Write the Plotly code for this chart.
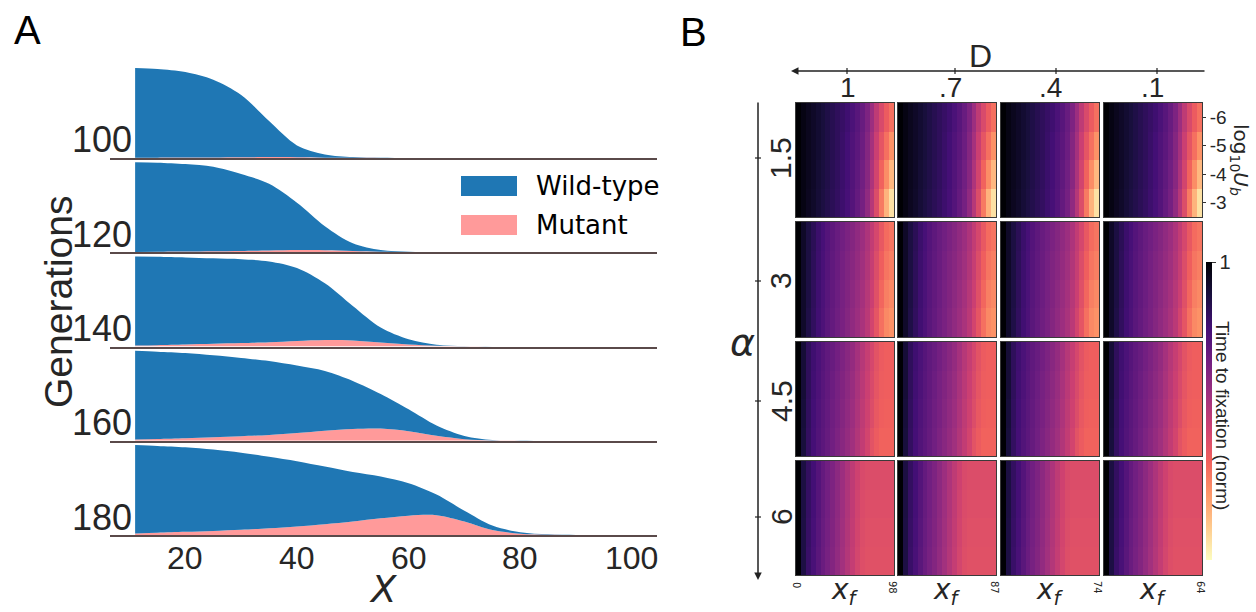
import plotly.graph_objects as go

# ---------------- DATA ----------------
# Panel A: population density profiles along X at several generations
x_pos = [11, 15, 20, 25, 30, 35, 40, 45, 50, 55, 60, 65, 70, 75, 80, 85, 90, 95, 100]
generations = [100, 120, 140, 160, 180]

wild_100 = [0.997, 0.986, 0.95, 0.864, 0.692, 0.40, 0.132, 0.036, 0.008, 0.002, 0, 0, 0, 0, 0, 0, 0, 0, 0]
mut_100 = [0.003, 0.004, 0.005, 0.006, 0.008, 0.01, 0.008, 0.004, 0.002, 0.001, 0, 0, 0, 0, 0, 0, 0, 0, 0]

wild_120 = [0.996, 0.99, 0.973, 0.94, 0.856, 0.741, 0.526, 0.268, 0.086, 0.019, 0.004, 0.001, 0, 0, 0, 0, 0, 0, 0]
mut_120 = [0.004, 0.005, 0.007, 0.01, 0.014, 0.019, 0.024, 0.022, 0.014, 0.006, 0.002, 0.001, 0, 0, 0, 0, 0, 0, 0]

wild_140 = [0.99, 0.983, 0.968, 0.95, 0.932, 0.898, 0.81, 0.63, 0.382, 0.165, 0.058, 0.012, 0.003, 0.001, 0, 0, 0, 0, 0]
mut_140 = [0.01, 0.015, 0.022, 0.03, 0.038, 0.047, 0.062, 0.072, 0.068, 0.045, 0.022, 0.008, 0.002, 0, 0, 0, 0, 0, 0]

wild_160 = [0.985, 0.97, 0.947, 0.912, 0.87, 0.82, 0.75, 0.665, 0.535, 0.385, 0.245, 0.115, 0.036, 0.005, 0.001, 0, 0, 0, 0]
mut_160 = [0.015, 0.02, 0.028, 0.038, 0.05, 0.065, 0.085, 0.11, 0.13, 0.135, 0.105, 0.055, 0.018, 0.004, 0.001, 0, 0, 0, 0]

wild_180 = [0.982, 0.965, 0.94, 0.905, 0.857, 0.795, 0.725, 0.64, 0.55, 0.465, 0.36, 0.23, 0.12, 0.05, 0.015, 0.003, 0, 0, 0]
mut_180 = [0.018, 0.025, 0.035, 0.045, 0.058, 0.075, 0.095, 0.12, 0.15, 0.185, 0.215, 0.22, 0.15, 0.055, 0.015, 0.004, 0.001, 0, 0]

wild_rows = [wild_100, wild_120, wild_140, wild_160, wild_180]
mut_rows = [mut_100, mut_120, mut_140, mut_160, mut_180]
x_ticks_a = [20, 40, 60, 80, 100]

# Panel B: normalised time to fixation, rows = log10 Ub (-6..-3), columns = x_f bins
log10_ub = [-6, -5, -4, -3]
xf_bins = list(range(20))
d_labels = ["1", ".7", ".4", ".1"]
alpha_labels = ["1.5", "3", "4.5", "6"]
xf_end_labels = ["98", "87", "74", "64"]

fix_alpha_1_5 = [
    [1.0, 0.97, 0.95, 0.93, 0.91, 0.89, 0.87, 0.85, 0.83, 0.81, 0.79, 0.76, 0.73, 0.69, 0.64, 0.56, 0.48, 0.41, 0.35, 0.3],
    [1.0, 0.97, 0.95, 0.93, 0.91, 0.89, 0.87, 0.85, 0.83, 0.805, 0.78, 0.75, 0.72, 0.68, 0.62, 0.54, 0.45, 0.37, 0.3, 0.23],
    [1.0, 0.97, 0.95, 0.93, 0.905, 0.885, 0.865, 0.845, 0.825, 0.8, 0.775, 0.745, 0.71, 0.67, 0.61, 0.52, 0.43, 0.33, 0.24, 0.15],
    [1.0, 0.97, 0.945, 0.925, 0.9, 0.88, 0.86, 0.84, 0.82, 0.795, 0.77, 0.74, 0.7, 0.66, 0.59, 0.5, 0.4, 0.28, 0.16, 0.06],
]
fix_alpha_3 = [
    [1.0, 0.93, 0.88, 0.84, 0.8, 0.77, 0.74, 0.715, 0.69, 0.67, 0.645, 0.62, 0.59, 0.56, 0.52, 0.47, 0.42, 0.36, 0.31, 0.29],
    [1.0, 0.93, 0.88, 0.835, 0.795, 0.765, 0.735, 0.71, 0.685, 0.66, 0.635, 0.61, 0.58, 0.55, 0.51, 0.46, 0.4, 0.34, 0.29, 0.27],
    [1.0, 0.925, 0.875, 0.83, 0.79, 0.76, 0.73, 0.705, 0.68, 0.655, 0.63, 0.6, 0.57, 0.54, 0.5, 0.45, 0.39, 0.32, 0.27, 0.25],
    [1.0, 0.925, 0.87, 0.825, 0.785, 0.755, 0.725, 0.7, 0.675, 0.65, 0.62, 0.59, 0.56, 0.53, 0.49, 0.43, 0.37, 0.3, 0.25, 0.23],
]
fix_alpha_4_5 = [
    [1.0, 0.9, 0.83, 0.79, 0.76, 0.735, 0.71, 0.69, 0.665, 0.64, 0.61, 0.58, 0.54, 0.5, 0.46, 0.42, 0.38, 0.35, 0.34, 0.34],
    [1.0, 0.9, 0.83, 0.785, 0.755, 0.73, 0.705, 0.68, 0.655, 0.63, 0.6, 0.57, 0.53, 0.49, 0.45, 0.41, 0.37, 0.345, 0.34, 0.34],
    [1.0, 0.895, 0.825, 0.78, 0.75, 0.725, 0.7, 0.675, 0.65, 0.62, 0.59, 0.56, 0.52, 0.48, 0.44, 0.4, 0.36, 0.34, 0.335, 0.335],
    [1.0, 0.89, 0.82, 0.775, 0.745, 0.72, 0.695, 0.67, 0.64, 0.61, 0.58, 0.55, 0.51, 0.47, 0.43, 0.38, 0.35, 0.33, 0.33, 0.33],
]
fix_alpha_6 = [
    [1.0, 0.88, 0.82, 0.78, 0.74, 0.7, 0.67, 0.64, 0.6, 0.56, 0.52, 0.48, 0.44, 0.41, 0.4, 0.4, 0.4, 0.4, 0.4, 0.4],
    [1.0, 0.88, 0.815, 0.775, 0.735, 0.695, 0.665, 0.635, 0.595, 0.555, 0.515, 0.475, 0.435, 0.405, 0.395, 0.395, 0.395, 0.395, 0.395, 0.395],
    [1.0, 0.875, 0.81, 0.77, 0.73, 0.69, 0.66, 0.63, 0.59, 0.55, 0.51, 0.47, 0.43, 0.4, 0.39, 0.39, 0.39, 0.39, 0.39, 0.39],
    [1.0, 0.875, 0.805, 0.765, 0.725, 0.685, 0.655, 0.625, 0.585, 0.545, 0.505, 0.465, 0.425, 0.395, 0.385, 0.385, 0.385, 0.385, 0.385, 0.385],
]
fix_by_alpha = [fix_alpha_1_5, fix_alpha_3, fix_alpha_4_5, fix_alpha_6]

# ---------------- LAYOUT HELPERS ----------------
W, H = 1256, 612
def PX(x):
    return x / W
def PY(y):
    return 1 - y / H

BLUE = "#1f77b4"
PINK = "#ff9a9a"
TXT = "#262626"
ARIAL = "Liberation Sans, Arial, sans-serif"
DEJAVU = "DejaVu Sans, sans-serif"

fig = go.Figure()
layout = dict(
    width=W, height=H, margin=dict(l=0, r=0, t=0, b=0),
    paper_bgcolor="white", plot_bgcolor="rgba(0,0,0,0)",
    showlegend=False,
)
annotations = []
shapes = []

# ---------------- PANEL A ----------------
a_left, a_right = 110, 657
row_step = 94.25
first_base = 158
for k in range(5):
    ax_id = k + 1
    xa = "x" if ax_id == 1 else f"x{ax_id}"
    ya = "y" if ax_id == 1 else f"y{ax_id}"
    base = first_base + row_step * k
    top = base - row_step
    fig.add_trace(go.Scatter(x=x_pos, y=mut_rows[k], xaxis=xa, yaxis=ya, mode="lines",
                             stackgroup=f"s{k}", line=dict(width=0, shape="spline", smoothing=0.9, color=PINK),
                             fillcolor=PINK, hoverinfo="skip"))
    fig.add_trace(go.Scatter(x=x_pos, y=wild_rows[k], xaxis=xa, yaxis=ya, mode="lines",
                             stackgroup=f"s{k}", line=dict(width=0, shape="spline", smoothing=0.9, color=BLUE),
                             fillcolor=BLUE, hoverinfo="skip"))
    layout["xaxis" if ax_id == 1 else f"xaxis{ax_id}"] = dict(
        domain=[PX(a_left), PX(a_right)], range=[6.5, 104.5], anchor=ya,
        showgrid=False, zeroline=False, showline=True, linecolor="#5a4a4a", linewidth=1.5,
        showticklabels=False, ticks="",
    )
    layout["yaxis" if ax_id == 1 else f"yaxis{ax_id}"] = dict(
        domain=[PY(base), PY(top)], range=[0, row_step / 90.0], anchor=xa,
        showgrid=False, zeroline=False, showline=False, showticklabels=False, ticks="",
    )
    annotations.append(dict(text=str(generations[k]), xref="paper", yref="paper",
                            x=PX(134), y=PY(base - 18), xanchor="right", yanchor="middle",
                            showarrow=False, font=dict(size=36, color=TXT, family=ARIAL)))

# bottom X tick labels, placed through the bottom row's x axis
for tv in x_ticks_a:
    annotations.append(dict(text=str(tv), xref="x5", yref="paper", x=tv, y=PY(558),
                            xanchor="center", yanchor="middle", showarrow=False,
                            font=dict(size=32, color=TXT, family=ARIAL)))

# legend (manual)
shapes.append(dict(type="rect", xref="paper", yref="paper", x0=PX(461), x1=PX(517), y0=PY(196), y1=PY(176),
                   fillcolor=BLUE, line=dict(width=0)))
shapes.append(dict(type="rect", xref="paper", yref="paper", x0=PX(461), x1=PX(517), y0=PY(235), y1=PY(215),
                   fillcolor=PINK, line=dict(width=0)))
annotations.append(dict(text="Wild-type", xref="paper", yref="paper", x=PX(534), y=PY(186),
                        xanchor="left", yanchor="middle", showarrow=False,
                        font=dict(size=26, color="black", family=DEJAVU)))
annotations.append(dict(text="Mutant", xref="paper", yref="paper", x=PX(534), y=PY(225),
                        xanchor="left", yanchor="middle", showarrow=False,
                        font=dict(size=26, color="black", family=DEJAVU)))

annotations.append(dict(text="Generations", xref="paper", yref="paper", x=PX(58), y=PY(302),
                        xanchor="center", yanchor="middle", textangle=-90, showarrow=False,
                        font=dict(size=39, color=TXT, family=ARIAL)))
annotations.append(dict(text="<i>X</i>", xref="paper", yref="paper", x=PX(383), y=PY(589),
                        xanchor="center", yanchor="middle", showarrow=False,
                        font=dict(size=37, color=TXT, family=DEJAVU)))
annotations.append(dict(text="A", xref="paper", yref="paper", x=PX(27), y=PY(30),
                        xanchor="center", yanchor="middle", showarrow=False,
                        font=dict(size=40, color="black", family=ARIAL)))
annotations.append(dict(text="B", xref="paper", yref="paper", x=PX(693), y=PY(32),
                        xanchor="center", yanchor="middle", showarrow=False,
                        font=dict(size=40, color="black", family=ARIAL)))

# ---------------- PANEL B ----------------
col_x = [(796, 894), (898, 996), (1001, 1099), (1104, 1202)]
row_y = [(103, 217), (222, 337), (342, 456), (461, 575)]
ax_id = 6
for r in range(4):
    for c in range(4):
        xa = f"x{ax_id}"
        ya = f"y{ax_id}"
        first = (r == 0 and c == 0)
        hm = go.Heatmap(z=fix_by_alpha[r], x=xf_bins, y=log10_ub, xaxis=xa, yaxis=ya,
                        colorscale="Magma", reversescale=True, zmin=0, zmax=1,
                        showscale=first, hoverinfo="skip")
        if first:
            hm.colorbar = dict(x=PX(1206), xanchor="left", y=PY(411), yanchor="middle",
                               len=298 / H, lenmode="fraction", thickness=6, thicknessmode="pixels",
                               xpad=0, ypad=0,
                               outlinewidth=0, tickvals=[1], ticktext=["1"], ticks="outside",
                               ticklen=4, tickcolor="#333", tickfont=dict(size=20, color=TXT, family=ARIAL))
        fig.add_trace(hm)
        right_top = (r == 0 and c == 3)
        layout[f"xaxis{ax_id}"] = dict(domain=[PX(col_x[c][0]), PX(col_x[c][1])], range=[-0.5, 19.5],
                                       anchor=ya, showgrid=False, zeroline=False, showline=True, mirror=True,
                                       linecolor="#3a3a3a", linewidth=1, showticklabels=False, ticks="")
        layout[f"yaxis{ax_id}"] = dict(domain=[PY(row_y[r][1]), PY(row_y[r][0])], range=[-2.5, -6.5],
                                       anchor=xa, showgrid=False, zeroline=False, showline=True, mirror=True,
                                       linecolor="#3a3a3a", linewidth=1,
                                       side="right" if right_top else "left",
                                       showticklabels=right_top, tickvals=log10_ub if right_top else [],
                                       ticktext=[str(v) for v in log10_ub] if right_top else [],
                                       ticks="outside" if right_top else "", ticklen=3, tickcolor="#333",
                                       tickfont=dict(size=19, color=TXT, family=ARIAL))
        ax_id += 1

# D axis on top (arrow pointing left)
annotations.append(dict(x=PX(791), y=PY(71), xref="paper", yref="paper", ax=1206 - 791, ay=0,
                        text="", showarrow=True, arrowhead=2, arrowsize=1, arrowwidth=1.5, arrowcolor="#222"))
d_tick_x = [847, 955, 1056, 1157]
d_label_x = [848, 950, 1050, 1152]
for i in range(4):
    shapes.append(dict(type="line", xref="paper", yref="paper", x0=PX(d_tick_x[i]), x1=PX(d_tick_x[i]),
                       y0=PY(68), y1=PY(74), line=dict(color="#222", width=1.2)))
    annotations.append(dict(text=d_labels[i], xref="paper", yref="paper", x=PX(d_label_x[i]), y=PY(88),
                            xanchor="center", yanchor="middle", showarrow=False,
                            font=dict(size=28, color=TXT, family=ARIAL)))
annotations.append(dict(text="D", xref="paper", yref="paper", x=PX(980), y=PY(56),
                        xanchor="center", yanchor="middle", showarrow=False,
                        font=dict(size=32, color=TXT, family=ARIAL)))

# alpha axis on left (arrow pointing down)
annotations.append(dict(x=PX(758), y=PY(580), xref="paper", yref="paper", ax=0, ay=-(580 - 101),
                        text="", showarrow=True, arrowhead=2, arrowsize=1, arrowwidth=1.5, arrowcolor="#222"))
a_tick_y = [158, 281, 401, 517]
for i in range(4):
    shapes.append(dict(type="line", xref="paper", yref="paper", x0=PX(755), x1=PX(761),
                       y0=PY(a_tick_y[i]), y1=PY(a_tick_y[i]), line=dict(color="#222", width=1.2)))
    annotations.append(dict(text=alpha_labels[i], xref="paper", yref="paper", x=PX(781), y=PY(a_tick_y[i]),
                            xanchor="center", yanchor="middle", textangle=-90, showarrow=False,
                            font=dict(size=30, color=TXT, family=ARIAL)))
annotations.append(dict(text="<i>α</i>", xref="paper", yref="paper", x=PX(742), y=PY(342),
                        xanchor="center", yanchor="middle", showarrow=False,
                        font=dict(size=38, color=TXT, family=DEJAVU)))

# right-side labels
annotations.append(dict(text="log<sub>10</sub><i>U</i><sub><i>b</i></sub>", xref="paper", yref="paper",
                        x=PX(1240), y=PY(160), xanchor="center", yanchor="middle", textangle=90,
                        showarrow=False, font=dict(size=20, color=TXT, family=DEJAVU)))
annotations.append(dict(text="Time to fixation (norm)", xref="paper", yref="paper",
                        x=PX(1223), y=PY(415), xanchor="center", yanchor="middle", textangle=90,
                        showarrow=False, font=dict(size=19, color=TXT, family=ARIAL)))

# bottom x_f labels
for c in range(4):
    cx = (col_x[c][0] + col_x[c][1]) / 2
    annotations.append(dict(text="<i>x</i><sub><i>f</i></sub>", xref="paper", yref="paper",
                            x=PX(cx), y=PY(591), xanchor="center", yanchor="middle", showarrow=False,
                            font=dict(size=28, color=TXT, family=DEJAVU)))
    annotations.append(dict(text=xf_end_labels[c], xref="paper", yref="paper", x=PX(col_x[c][1] - 1), y=PY(587),
                            xanchor="center", yanchor="middle", textangle=90, showarrow=False,
                            font=dict(size=10, color=TXT, family=DEJAVU)))
annotations.append(dict(text="0", xref="paper", yref="paper", x=PX(797), y=PY(585),
                        xanchor="center", yanchor="middle", textangle=90, showarrow=False,
                        font=dict(size=10, color=TXT, family=DEJAVU)))

layout["annotations"] = annotations
layout["shapes"] = shapes
fig.update_layout(**layout)
fig.write_html("out.html", config={"displayModeBar": False},
               post_script="document.body.style.margin='0';document.body.style.overflow='hidden';")
